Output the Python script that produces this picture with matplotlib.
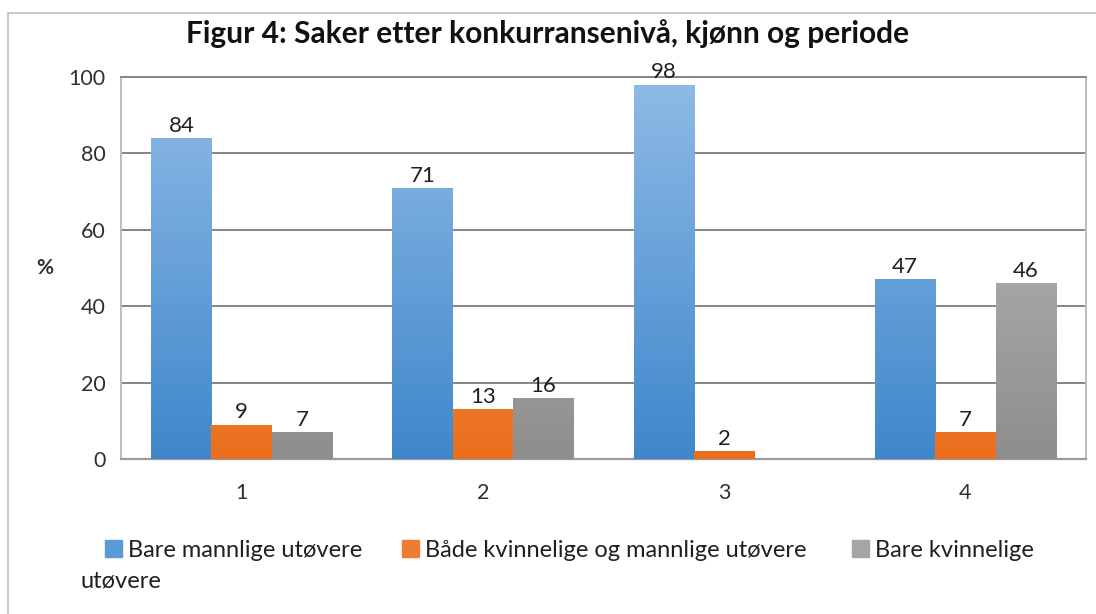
import numpy as np
import matplotlib
matplotlib.use("Agg")
import matplotlib.pyplot as plt
from matplotlib.colors import LinearSegmentedColormap
from matplotlib.patches import Rectangle

plt.rcParams['font.family'] = ['Lato', 'DejaVu Sans']

title = "Figur 4: Saker etter konkurransenivå, kjønn og periode"
categories = ["1", "2", "3", "4"]
series_names = ["Bare mannlige utøvere",
                "Både kvinnelige og mannlige utøvere",
                "Bare kvinnelige utøvere"]
menn = [84, 71, 98, 47]
begge = [9, 13, 2, 7]
kvinner = [7, 16, np.nan, 46]
values = [menn, begge, kvinner]

# top colour, bottom colour of each bar gradient
grads = [("#8fbbe6", "#3f87cb"), ("#f7a672", "#ea6f1c"), ("#c0c0c0", "#8e8e8e")]
legend_cols = ["#5b9bd5", "#ed7d31", "#a5a5a5"]

W, H = 1096, 614
fig = plt.figure(figsize=(W / 100, H / 100), dpi=100)
ax = fig.add_axes([121 / W, 1 - 459 / H, (1086 - 121) / W, (459 - 77) / H])

# outer chart frame
fig.patches.append(Rectangle((8 / W, -0.1), 1.2, 1.1 - 13 / H, transform=fig.transFigure,
                             fill=False, edgecolor="#bfbfbf", lw=1.2))

x = np.arange(len(categories))
w = 0.25
for i, (vals, (c_top, c_bot)) in enumerate(zip(values, grads)):
    cmap = LinearSegmentedColormap.from_list("g%d" % i, [c_bot, c_top])
    pos = x + (i - 1) * w
    bars = ax.bar(pos, np.nan_to_num(vals), w, color="none", edgecolor="none", zorder=3)
    for b, v in zip(bars, vals):
        if np.isnan(v) or v == 0:
            continue
        grad = np.linspace(0, 1, 256).reshape(-1, 1)
        im = ax.imshow(grad, cmap=cmap, origin="lower", aspect="auto", zorder=3,
                       extent=(b.get_x(), b.get_x() + w, 0, 100), interpolation="bilinear")
        im.set_clip_path(b)
        ax.annotate("%d" % v, (b.get_x() + w / 2, v), xytext=(0, 4.5), textcoords="offset points",
                    ha="center", va="baseline", fontsize=16, color="#202020", zorder=4)

ax.set_xlim(-0.5, len(categories) - 0.5)
ax.set_ylim(0, 100)
ax.set_yticks(range(0, 101, 20))
ax.set_xticks(x)
ax.set_xticklabels(categories)
ax.tick_params(axis="y", length=0, pad=11, labelsize=15.5, labelcolor="#303030")
ax.tick_params(axis="x", length=0, pad=17, labelsize=15.5, labelcolor="#303030")
ax.yaxis.grid(True, color="#858585", lw=1.4, zorder=1)
ax.set_axisbelow(True)
for s in ["left", "right"]:
    ax.spines[s].set_color("#bdbdbd")
    ax.spines[s].set_linewidth(1.4)
ax.spines["top"].set_color("#858585")
ax.spines["top"].set_linewidth(1.4)
ax.spines["bottom"].set_color("#9a9a9a")
ax.spines["bottom"].set_linewidth(1.6)

ax.set_ylabel("%", rotation=0, fontsize=15, fontweight="bold", color="#303030")
ax.yaxis.set_label_coords(-76 / 965, (459 - 278) / 382)

fig.text(0.5, 1 - 43 / H, title, ha="center", va="baseline", fontsize=21.5, fontweight="bold",
         color="#111111")

# legend, wrapped like the original
sq = 17
lx = [105, 402, 852]
for xs, col, name in zip(lx, legend_cols, series_names):
    fig.patches.append(Rectangle((xs / W, 1 - 557 / H), sq / W, sq / H,
                                 transform=fig.transFigure, color=col))
first, rest = series_names[2].rsplit(" ", 1)
labels = [series_names[0], series_names[1], first]
for xs, lab in zip(lx, labels):
    fig.text((xs + sq + 6) / W, 1 - 557 / H, lab, ha="left", va="baseline",
             fontsize=17, color="#202020")
fig.text(80 / W, 1 - 587 / H, rest, ha="left", va="baseline", fontsize=17, color="#202020")

fig.savefig("out.png", dpi=100)
